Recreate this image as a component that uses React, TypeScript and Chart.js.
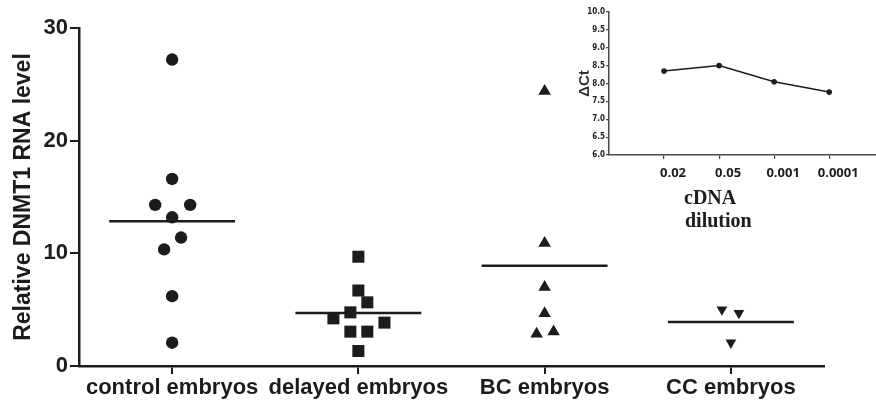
import React, { useEffect, useRef } from "react";
import { Chart, registerables } from "chart.js";
Chart.register(...registerables);

// ---------- main chart data ----------
const categories = ["control embryos", "delayed embryos", "BC embryos", "CC embryos"];
const controlValues = [27.2, 16.6, 14.3, 14.3, 13.2, 11.4, 10.35, 6.2, 2.07];
const controlOffsets = [0, 0, -0.091, 0.097, 0, 0.048, -0.043, 0, 0];
const delayedValues = [9.7, 6.7, 5.65, 4.76, 4.23, 3.85, 3.05, 3.05, 1.33];
const delayedOffsets = [0, 0, 0.048, -0.043, -0.134, 0.14, -0.043, 0.048, 0];
const bcValues = [24.4, 10.9, 7.0, 4.67, 2.84, 3.05];
const bcOffsets = [0, 0, 0, 0, -0.043, 0.048];
const ccValues = [5.0, 4.7, 2.07];
const ccOffsets = [-0.048, 0.043, 0];
const groupMeans = [12.84, 4.7, 8.9, 3.9];
const mainYTicks = [0, 10, 20, 30];

// ---------- inset data ----------
const dilutionLabels = ["0.02", "0.05", "0.001", "0.0001"];
const deltaCtValues = [8.35, 8.5, 8.05, 7.76];
const insetYTicks = [6, 6.5, 7, 7.5, 8, 8.5, 9, 9.5, 10];
const dilutionTitleLines = ["cDNA", "dilution"];

const INK = "#1c1c1c";
const GRAY = "#4a4a4a";
const SANS = "'Liberation Sans', Arial, Helvetica, sans-serif";

export default function App() {
  const mainRef = useRef<HTMLCanvasElement | null>(null);
  const insetRef = useRef<HTMLCanvasElement | null>(null);

  useEffect(() => {
    const groups = [
      { values: controlValues, offsets: controlOffsets, style: "circle", radius: 6.2, rotation: 0 },
      { values: delayedValues, offsets: delayedOffsets, style: "rect", radius: 8.5, rotation: 0 },
      { values: bcValues, offsets: bcOffsets, style: "triangle", radius: 7.2, rotation: 0 },
      { values: ccValues, offsets: ccOffsets, style: "triangle", radius: 6.2, rotation: 180 },
    ];
    const datasets: any[] = groups.map((g, i) => ({
      type: "scatter",
      data: g.values.map((v, k) => ({ x: i + g.offsets[k], y: v })),
      pointStyle: g.style,
      pointRadius: g.radius,
      pointRotation: g.rotation,
      backgroundColor: INK,
      borderColor: INK,
      borderWidth: 0,
    }));
    groupMeans.forEach((m, i) => {
      datasets.push({
        type: "line",
        data: [
          { x: i - 0.338, y: m },
          { x: i + 0.338, y: m },
        ],
        borderColor: INK,
        borderWidth: 2.5,
        pointRadius: 0,
        showLine: true,
      });
    });

    const main = new Chart(mainRef.current!, {
      type: "scatter",
      data: { datasets },
      options: {
        animation: false,
        responsive: false,
        maintainAspectRatio: false,
        layout: { autoPadding: false, padding: { left: 0, right: 52, top: 28, bottom: 0 } },
        plugins: { legend: { display: false }, tooltip: { enabled: false } },
        scales: {
          x: {
            type: "linear",
            min: -0.5,
            max: 3.5,
            afterBuildTicks: (s: any) => {
              s.ticks = categories.map((_, i) => ({ value: i }));
            },
            afterFit: (s: any) => {
              s.height = 34;
            },
            ticks: {
              autoSkip: false,
              maxRotation: 0,
              padding: 1,
              color: INK,
              font: { family: SANS, weight: "bold", size: 22 },
              callback: (v: any) => categories[Math.round(Number(v))] ?? "",
            },
            grid: { display: true, drawOnChartArea: false, drawTicks: true, tickLength: 8, color: INK, lineWidth: 2 },
            border: { display: true, color: INK, width: 2.5 },
          },
          y: {
            type: "linear",
            min: 0,
            max: 30,
            afterBuildTicks: (s: any) => {
              s.ticks = mainYTicks.map((v) => ({ value: v }));
            },
            afterFit: (s: any) => {
              s.width = 79;
            },
            ticks: {
              padding: 2,
              color: INK,
              font: { family: SANS, weight: "bold", size: 22 },
            },
            grid: { display: true, drawOnChartArea: false, drawTicks: true, tickLength: 9, color: INK, lineWidth: 2 },
            border: { display: true, color: INK, width: 2.5 },
            title: {
              display: true,
              text: "Relative DNMT1 RNA level",
              color: INK,
              font: { family: SANS, weight: "bold", size: 23 },
              padding: { top: 10, bottom: 0 },
            },
          },
        },
      } as any,
    });

    const titlePlugin = {
      id: "dilutionTitle",
      afterDraw(chart: any) {
        const ctx = chart.ctx;
        ctx.save();
        ctx.font = "bold 20px 'Liberation Serif', 'Times New Roman', serif";
        ctx.fillStyle = INK;
        ctx.textAlign = "left";
        ctx.textBaseline = "middle";
        ctx.fillText(dilutionTitleLines[0], 124, 199);
        ctx.fillText(dilutionTitleLines[1], 125, 222);
        ctx.restore();
      },
    };

    const inset = new Chart(insetRef.current!, {
      type: "line",
      data: {
        datasets: [
          {
            data: deltaCtValues.map((v, i) => ({ x: i + 1, y: v })),
            borderColor: INK,
            borderWidth: 1.5,
            backgroundColor: INK,
            pointRadius: 2.8,
            pointStyle: "circle",
            pointBorderWidth: 0,
            tension: 0,
          },
        ],
      },
      options: {
        animation: false,
        responsive: false,
        maintainAspectRatio: false,
        layout: { autoPadding: false, padding: { left: 0, right: 0, top: 12, bottom: 0 } },
        plugins: { legend: { display: false }, tooltip: { enabled: false } },
        scales: {
          x: {
            type: "linear",
            min: 0,
            max: 4.85,
            afterBuildTicks: (s: any) => {
              s.ticks = dilutionLabels.map((_, i) => ({ value: i + 1 }));
            },
            afterFit: (s: any) => {
              s.height = 85;
            },
            ticks: {
              autoSkip: false,
              maxRotation: 0,
              padding: 6,
              labelOffset: 9,
              color: INK,
              font: { family: "'Open Sans', sans-serif", weight: "bold", size: 13 },
              callback: (v: any) => dilutionLabels[Math.round(Number(v)) - 1] ?? "",
            },
            grid: { display: true, drawOnChartArea: false, drawTicks: true, tickLength: 4, color: GRAY, lineWidth: 1.2 },
            border: { display: true, color: GRAY, width: 1.5 },
          },
          y: {
            type: "linear",
            min: 6,
            max: 10,
            afterBuildTicks: (s: any) => {
              s.ticks = insetYTicks.map((v) => ({ value: v }));
            },
            afterFit: (s: any) => {
              s.width = 49;
            },
            ticks: {
              padding: 1,
              color: INK,
              font: { family: "'Liberation Sans Narrow', 'DejaVu Sans Condensed', sans-serif", weight: "bold", size: 8 },
              callback: (v: any) => Number(v).toFixed(1),
            },
            grid: { display: true, drawOnChartArea: false, drawTicks: true, tickLength: 3, color: GRAY, lineWidth: 1.2 },
            border: { display: true, color: GRAY, width: 1.5 },
            title: {
              display: true,
              text: "ΔCt",
              color: "#333",
              font: { family: SANS, weight: "bold", size: 15 },
              padding: { top: 16, bottom: 0 },
            },
          },
        },
      } as any,
      plugins: [titlePlugin],
    });

    return () => {
      main.destroy();
      inset.destroy();
    };
  }, []);

  return (
    <div style={{ position: "absolute", left: 0, top: 0, width: 876, height: 400, background: "#fff" }}>
      <canvas ref={mainRef} width={876} height={400} style={{ position: "absolute", left: 0, top: 0, width: 876, height: 400 }} />
      <canvas ref={insetRef} width={316} height={240} style={{ position: "absolute", left: 560, top: 0, width: 316, height: 240 }} />
    </div>
  );
}
